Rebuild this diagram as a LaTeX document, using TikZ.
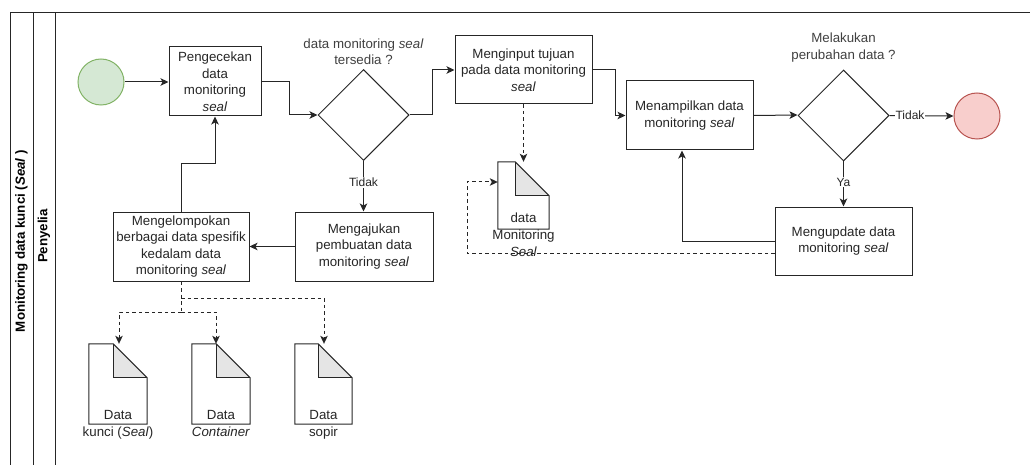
\documentclass[tikz,border=0pt]{standalone}
\usepackage{fontspec}
\setmainfont{Liberation Sans}
\usetikzlibrary{arrows.meta,shapes.geometric}

% document (note) outline with a folded top-right corner
\newcommand{\drawdoc}[2]{%
  \fill[black!10] ([xshift=-#2]#1.north east) -- ([xshift=-#2,yshift=-#2]#1.north east) -- ([yshift=-#2]#1.north east) -- cycle;
  \draw[ink] (#1.north west) -- ([xshift=-#2]#1.north east) -- ([yshift=-#2]#1.north east) -- (#1.south east) -- (#1.south west) -- cycle;
  \draw[ink] ([xshift=-#2]#1.north east) -- ([xshift=-#2,yshift=-#2]#1.north east) -- ([yshift=-#2]#1.north east);
}

\begin{document}
\begin{tikzpicture}[x=1pt,y=-1pt,
  every node/.style={font=\fontsize{13.3}{16.5}\selectfont, text=black!85},
  ink/.style={draw=black!85, line width=1pt},
  proc/.style={ink, rectangle, align=center, inner sep=2pt},
  gate/.style={ink, diamond, aspect=1, minimum width=91pt, minimum height=91pt, inner sep=0pt},
  flow/.style={ink, -{Stealth[length=8pt,width=7.5pt,inset=2pt]}},
  dataflow/.style={flow, dash pattern=on 3.5pt off 3pt},
  elabel/.style={fill=white, inner sep=1pt, font=\fontsize{12}{14}\selectfont},
  qlabel/.style={align=center, text=black!75},
  docnode/.style={rectangle, inner sep=0pt, fill=white},
  doctext/.style={align=center, inner sep=0pt, anchor=north, font=\fontsize{13.3}{17}\selectfont},
  lane/.style={rotate=90, font=\bfseries\fontsize{13.3}{16}\selectfont, text=black},
]
\useasboundingbox (0,0) rectangle (1030,465);

% pool and lane borders
\draw[ink] (10,465) -- (10,13) -- (1030,13);
\draw[ink] (33,13) -- (33,465);
\draw[ink] (55,13) -- (55,465);
\node[lane] (poolname) at (21.5,241) {Monitoring data kunci (\textit{Seal} )};
\node[lane] (lanename) at (44,236) {Penyelia};

% events
\node[circle, draw={rgb,255:red,130;green,179;blue,102}, fill={rgb,255:red,213;green,232;blue,212}, line width=1pt, minimum size=46pt, inner sep=0pt] (start) at (101,82) {};
\node[circle, draw={rgb,255:red,184;green,84;blue,80}, fill={rgb,255:red,248;green,206;blue,204}, line width=1pt, minimum size=46pt, inner sep=0pt] (finish) at (977,116) {};

% tasks
\node[proc, minimum width=92pt, minimum height=69pt] (cek) at (215,81.5) {Pengecekan\\data\\monitoring\\\textit{seal}};
\node[proc, minimum width=137pt, minimum height=68pt] (input) at (523.5,70) {Menginput tujuan\\pada data monitoring\\\textit{seal}};
\node[proc, minimum width=127pt, minimum height=69pt] (tampil) at (689.5,115.5) {Menampilkan data\\monitoring \textit{seal}};
\node[proc, minimum width=137pt, minimum height=68pt] (update) at (843.5,241) {Mengupdate data\\monitoring \textit{seal}};
\node[proc, minimum width=138pt, minimum height=69pt] (ajukan) at (364,246.5) {Mengajukan\\pembuatan data\\monitoring \textit{seal}};
\node[proc, minimum width=136pt, minimum height=69pt] (kelompok) at (181,246.5) {Mengelompokan\\berbagai data spesifik\\kedalam data\\monitoring \textit{seal}};

% gateways
\node[gate] (tersedia) at (363.5,115) {};
\node[qlabel] (tersediaq) at (363.5,51.5) {data monitoring \textit{seal}\\tersedia ?};
\node[gate] (ubah) at (843.5,115.5) {};
\node[qlabel] (ubahq) at (843.5,47.5) {Melakukan\\perubahan data ?};

% data objects
\node[docnode, minimum width=51pt, minimum height=67pt] (dmon) at (523.5,195.5) {};
\node[docnode, minimum width=58pt, minimum height=80pt] (dkunci) at (118,384) {};
\node[docnode, minimum width=58pt, minimum height=80pt] (dcont) at (221,384) {};
\node[docnode, minimum width=57pt, minimum height=80pt] (dsopir) at (323.5,384) {};
\drawdoc{dmon}{34pt}
\drawdoc{dkunci}{34pt}
\drawdoc{dcont}{34pt}
\drawdoc{dsopir}{34pt}
\node[doctext] (dmonlbl) at ([yshift=17pt]dmon.south) {data\\Monitoring\\\textit{Seal}};
\node[doctext] (dkuncilbl) at ([yshift=14pt]dkunci.south) {Data\\kunci (\textit{Seal})};
\node[doctext] (dcontlbl) at ([yshift=14pt]dcont.south) {Data\\\textit{Container}};
\node[doctext] (dsopirlbl) at ([yshift=14pt]dsopir.south) {Data\\sopir};

% sequence flows
\draw[flow] (start) -- (cek.west |- start);
\draw[flow] (cek.east) -- ++(28,0) |- (tersedia.west);
\draw[flow] (tersedia.east) -- ++(23,0) |- (input.west);
\draw[flow] (input.east) -- ++(23,0) |- (tampil.west);
\draw[flow] (tampil.east) -- (tersedia.west -| ubah.west) ;
\draw[flow] (ubah.east) -- node[elabel, pos=0.32] {Tidak} (finish.west);
\draw[flow] (ubah.south) -- node[elabel, pos=0.46] {Ya} (update.north);
\draw[flow] (update.west) -| ([xshift=-7.5pt]tampil.south);
\draw[flow] (tersedia.south) -- node[elabel, pos=0.42] {Tidak} (tersedia.south |- ajukan.north);
\draw[flow] (ajukan.west) -- (kelompok.east);
\draw[flow] (kelompok.north) -- ++(0,-48) -| (cek.south);

% data associations
\draw[dataflow] (input.south) -- (dmon.north);
\draw[dataflow] ([yshift=-12pt]update.west) -| (467,182) -- ([yshift=13.5pt]dmon.west);
\coordinate (split1) at (181,312);
\coordinate (split2) at (181,298);
\draw[ink, dash pattern=on 3.5pt off 3pt] (kelompok.south) -- (split1);
\draw[dataflow] (split1) -| ([xshift=1pt]dkunci.north);
\draw[dataflow] (split1) -| ([xshift=-5pt]dcont.north);
\draw[dataflow] (split2) -| ([xshift=0.5pt]dsopir.north);
\end{tikzpicture}
\end{document}
